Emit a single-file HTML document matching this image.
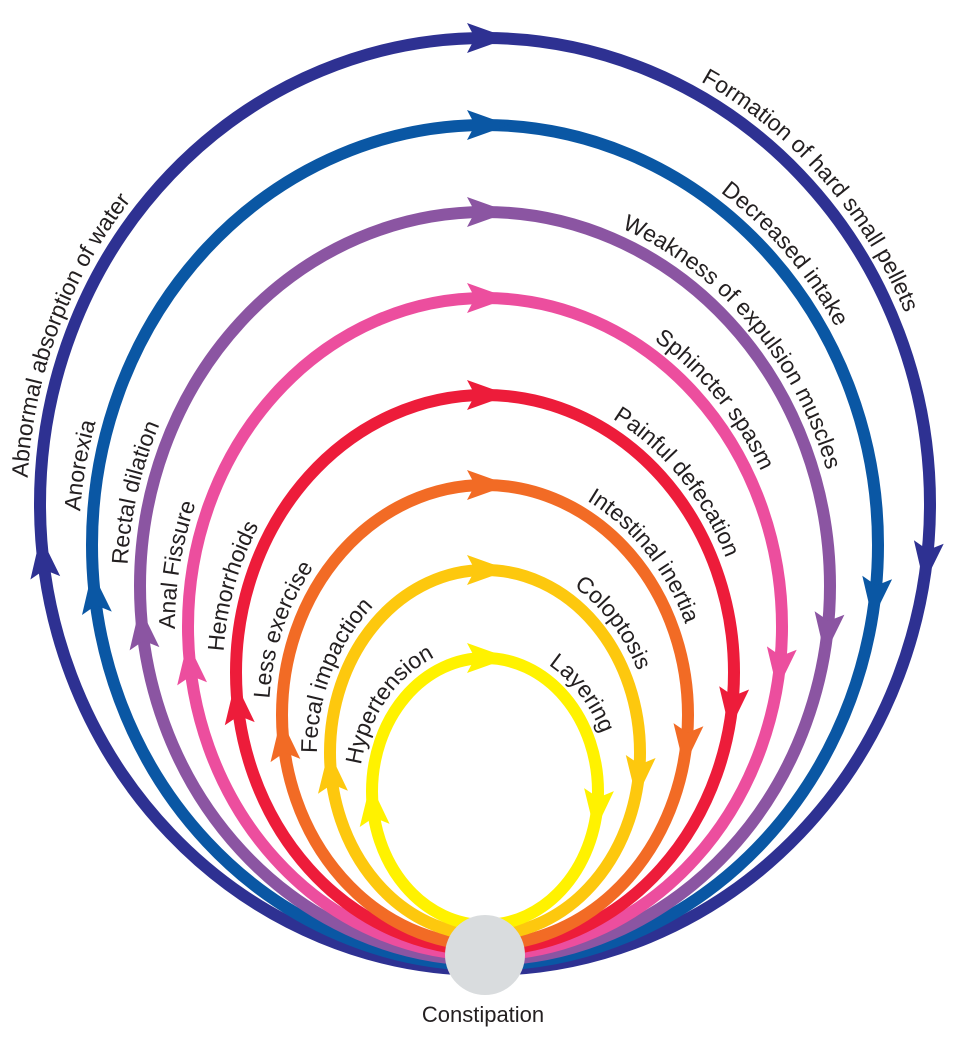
<!DOCTYPE html>
<html><head><meta charset="utf-8"><style>
html,body{margin:0;padding:0;background:#fff;}
svg{display:block;}
text{font-family:"Liberation Sans",sans-serif;font-size:23px;fill:#231f20;}
</style></head><body>
<svg id="chart" width="974" height="1041" viewBox="0 0 974 1041" xmlns="http://www.w3.org/2000/svg">
<g id="loops"></g>
<circle cx="485" cy="955" r="40" fill="#d9dcde"/>
<text x="483" y="1022" text-anchor="middle" style="font-size:22px">Constipation</text>
</svg>
<script>
const loopNames=["navy","blue","purple","pink","red","orange","gold","yellow"];
const colors=["#2e3192","#0a57a4","#8b55a2","#ec4e9e","#ed1c3a","#f26b25","#fdc80e","#fff200"];
const tops=[38,125,212,298,395,485,570,658];
const bottoms=[970,965,960,955,950,945,935,925];
const halfWidths=[445,393,345,297,249,203,155,113];
const leftLabels=["Abnormal absorption of water","Anorexia","Rectal dilation","Anal Fissure","Hemorrhoids","Less exercise","Fecal impaction","Hypertension"];
const rightLabels=["Formation of hard small pellets","Decreased intake","Weakness of expulsion muscles","Sphincter spasm","Painful defecation","Intestinal inertia","Coloptosis","Layering"];
const leftPos=[31,28,29,28,30,31,32,36];
const rightPos=[63,63,63,63,63,63,63,63];
const NS="http://www.w3.org/2000/svg";
const g=document.getElementById("loops");
function ellPath(cx,cy,rx,ry){
  return `M${cx},${cy+ry} A${rx},${ry} 0 1 1 ${cx},${cy-ry} A${rx},${ry} 0 1 1 ${cx},${cy+ry}`;
}
for(let i=0;i<loopNames.length;i++){
  const cx=485, cy=(tops[i]+bottoms[i])/2, ry=(bottoms[i]-tops[i])/2, rx=halfWidths[i];
  const grp=document.createElementNS(NS,"g");
  
  
  const e=document.createElementNS(NS,"ellipse");
  
  
  e.setAttribute("cx",cx);e.setAttribute("cy",cy);e.setAttribute("rx",rx);e.setAttribute("ry",ry);
  e.setAttribute("fill","none");e.setAttribute("stroke",colors[i]);e.setAttribute("stroke-width","12");
  grp.appendChild(e);
  const s=Math.asin(0.12);
  [-Math.PI/2, s, Math.PI-s].forEach((t,k)=>{
    const x=cx+rx*Math.cos(t), y=cy+ry*Math.sin(t);
    let dx=-rx*Math.sin(t), dy=ry*Math.cos(t);
    const L=Math.hypot(dx,dy); dx/=L; dy/=L;
    const nx=-dy, ny=dx;
    const tipL=24, back=18, w=15, notch=8;
    const p=[[x+dx*tipL,y+dy*tipL],[x-dx*back+nx*w,y-dy*back+ny*w],[x-dx*(back-notch),y-dy*(back-notch)],[x-dx*back-nx*w,y-dy*back-ny*w]];
    const poly=document.createElementNS(NS,"polygon");
    
    
    poly.setAttribute("points",p.map(q=>q[0].toFixed(1)+","+q[1].toFixed(1)).join(" "));
    poly.setAttribute("fill",colors[i]);
    grp.appendChild(poly);
  });
  const off=13;
  const path=document.createElementNS(NS,"path");
  path.setAttribute("id","lp"+i);
  path.setAttribute("d",ellPath(cx,cy,rx+off,ry+off));
  path.setAttribute("fill","none");
  
  
  grp.appendChild(path);
  [[leftLabels[i],leftPos[i],'left'],[rightLabels[i],rightPos[i],'right']].forEach(([lab,pos,side])=>{
    const tx=document.createElementNS(NS,"text");
    
    
    const tp=document.createElementNS(NS,"textPath");
    tp.setAttribute("href","#lp"+i);
    tp.setAttribute("startOffset",pos+"%");
    tp.setAttribute("text-anchor","middle");
    tp.textContent=lab;
    tx.appendChild(tp);
    grp.appendChild(tx);
  });
  g.appendChild(grp);
}
</script>
</body></html>
